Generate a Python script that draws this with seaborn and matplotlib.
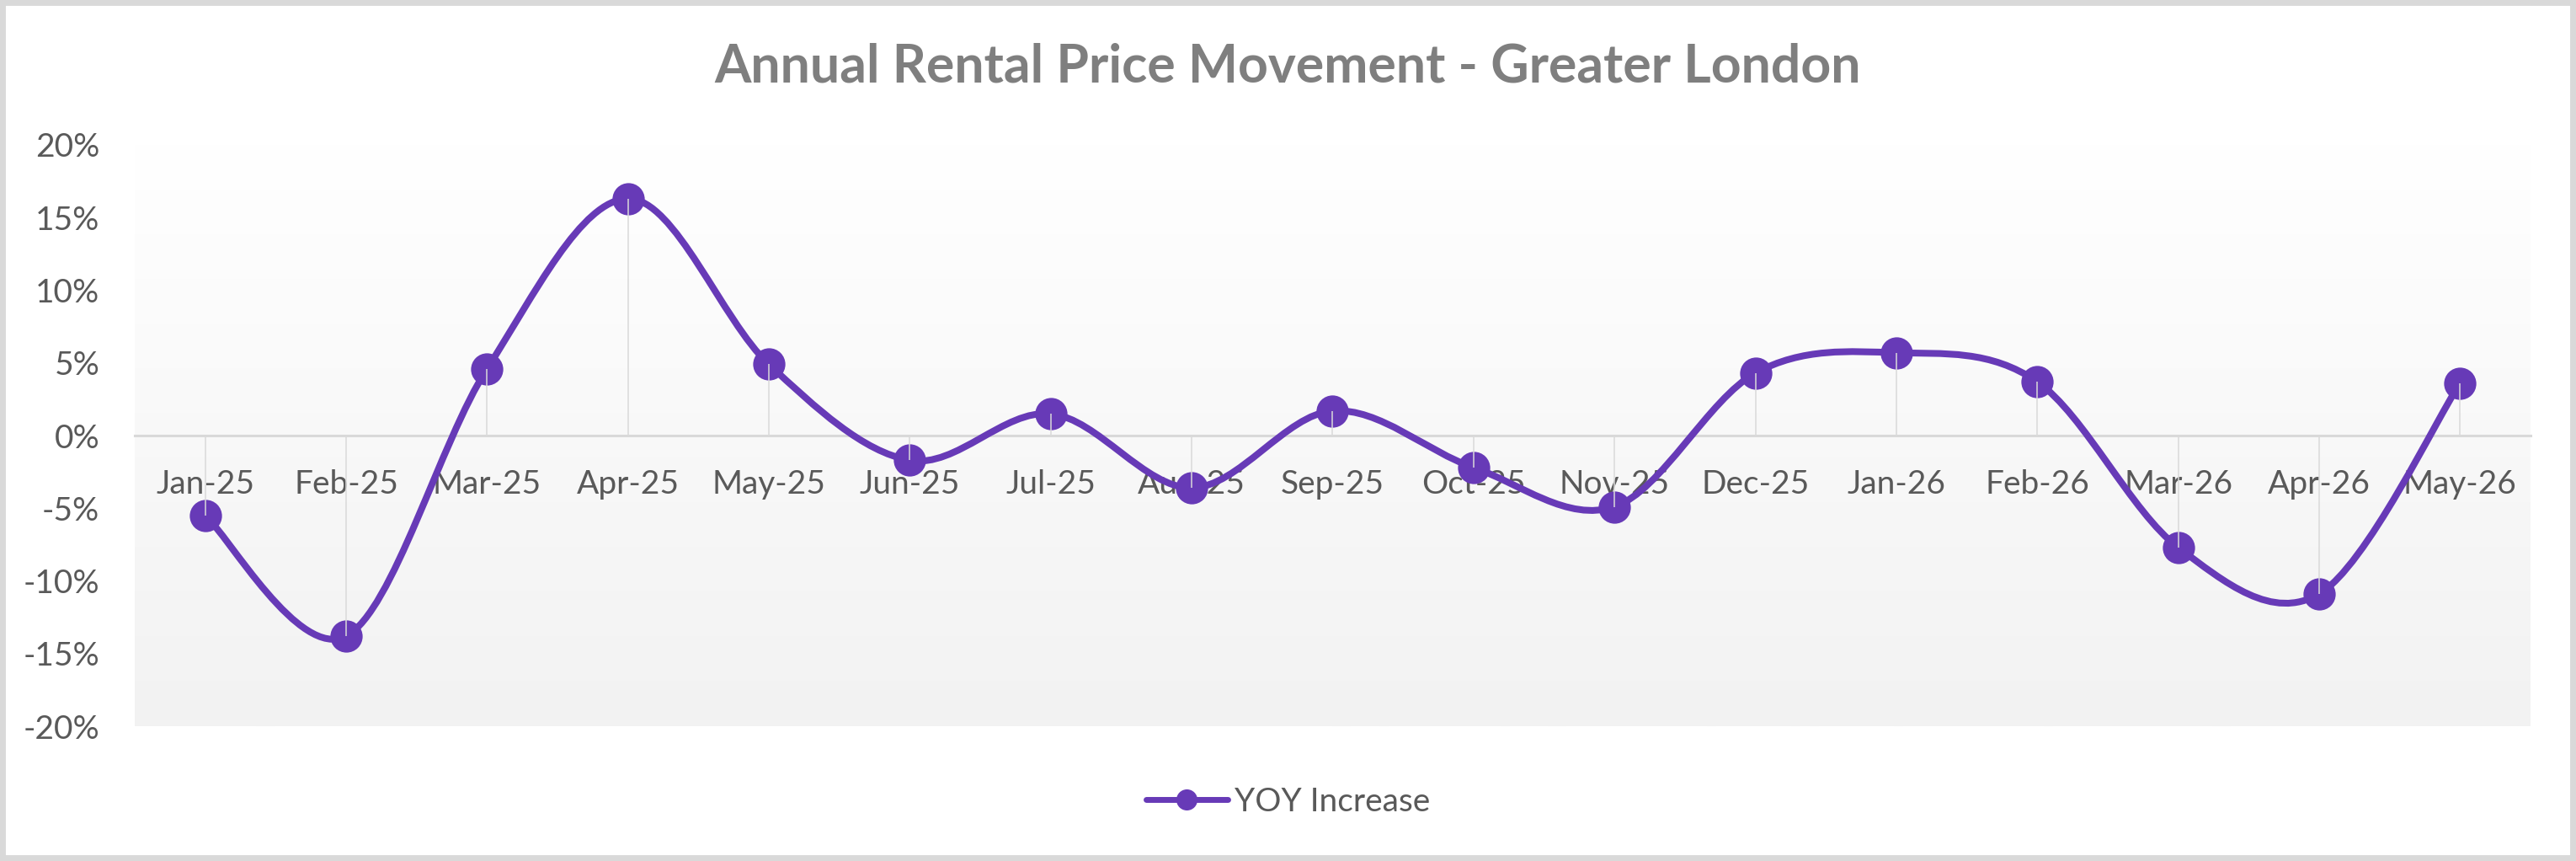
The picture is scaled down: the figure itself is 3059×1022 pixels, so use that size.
import numpy as np
import matplotlib
matplotlib.use("Agg")
import matplotlib.pyplot as plt
import seaborn as sns
from matplotlib.path import Path
from matplotlib.patches import PathPatch, Rectangle
from matplotlib.lines import Line2D
from matplotlib.colors import LinearSegmentedColormap

# ---- data ----
months = ["Jan-25", "Feb-25", "Mar-25", "Apr-25", "May-25", "Jun-25", "Jul-25",
          "Aug-25", "Sep-25", "Oct-25", "Nov-25", "Dec-25", "Jan-26", "Feb-26",
          "Mar-26", "Apr-26", "May-26"]
yoy_increase = [-5.5, -13.8, 4.6, 16.3, 4.9, -1.7, 1.5, -3.6, 1.7, -2.2, -4.9,
                4.3, 5.7, 3.7, -7.7, -10.9, 3.6]
y_ticks = [-20, -15, -10, -5, 0, 5, 10, 15, 20]
y_tick_labels = ["-20%", "-15%", "-10%", "-5%", "0%", "5%", "10%", "15%", "20%"]
title = "Annual Rental Price Movement - Greater London"
series_name = "YOY Increase"

PURPLE = "#673AB7"
GRID = "#D9D9D9"
TXT = "#595959"

sns.set_theme(style="white")
plt.rcParams['font.family'] = ['Lato', 'DejaVu Sans']

W, H = 3059, 1022
fig = plt.figure(figsize=(W / 100, H / 100), dpi=100)
fig.patch.set_facecolor("white")

ax = fig.add_axes([160 / W, 1 - 862 / H, (3005 - 160) / W, (862 - 172) / H])
ax.set_facecolor("none")
n = len(months)
xs = np.arange(n)
ys = np.array(yoy_increase, dtype=float)

ax.set_xlim(-0.5, n - 0.5)
ax.set_ylim(-20, 20)

# gradient plot area
cmap = LinearSegmentedColormap.from_list("g", ["#F2F2F2", "#FFFFFF"])
grad = np.linspace(0, 1, 256).reshape(-1, 1)
ax.imshow(grad, extent=[-0.5, n - 0.5, -20, 20], origin="lower", aspect="auto",
          cmap=cmap, zorder=0)

# smoothed line (Bezier segments through data points)
pts = np.column_stack([xs, ys])
verts = [tuple(pts[0])]
codes = [Path.MOVETO]
for i in range(n - 1):
    p0 = pts[max(i - 1, 0)]
    p1 = pts[i]
    p2 = pts[i + 1]
    p3 = pts[min(i + 2, n - 1)]
    c1 = p1 + (p2 - p0) / 6.0
    c2 = p2 - (p3 - p1) / 6.0
    verts += [tuple(c1), tuple(c2), tuple(p2)]
    codes += [Path.CURVE4] * 3
ax.add_patch(PathPatch(Path(verts, codes), facecolor="none", edgecolor=PURPLE,
                       linewidth=5.8, capstyle="round", joinstyle="round", zorder=3))

# markers
sns.scatterplot(x=xs, y=ys, ax=ax, s=760, color=PURPLE, edgecolor=PURPLE,
                linewidth=0, zorder=4, legend=False)

# drop lines
ax.vlines(xs, 0, ys, color=GRID, linewidth=1.1, zorder=5)

# axes styling
for s in ["top", "right", "left"]:
    ax.spines[s].set_visible(False)
ax.spines["bottom"].set_position(("data", 0))
ax.spines["bottom"].set_color(GRID)
ax.spines["bottom"].set_linewidth(2.2)
ax.spines["bottom"].set_zorder(1)

ax.set_xticks(xs)
ax.set_xticklabels(months)
ax.set_yticks(y_ticks)
ax.set_yticklabels(y_tick_labels)
ax.tick_params(axis="x", length=0, pad=29, labelsize=28, labelcolor=TXT)
ax.tick_params(axis="y", length=0, pad=30, labelsize=28, labelcolor=TXT)
ax.grid(False)

# title
fig.text(0.5, 1 - 80 / H, title, ha="center", va="center", fontsize=45,
         fontweight="bold", color="#7F7F7F")

# legend
handle = Line2D([0], [0], color=PURPLE, linewidth=5, marker="o", markersize=17,
                markerfacecolor=PURPLE, markeredgecolor=PURPLE,
                solid_capstyle="round")
leg = fig.legend([handle], [series_name], loc="center", bbox_to_anchor=(0.5, 1 - 952 / H),
                 frameon=False, fontsize=28, handlelength=2.5, handletextpad=0.2)
for t in leg.get_texts():
    t.set_color(TXT)

# outer border
fig.patches.append(Rectangle((0, 0), 1, 1, transform=fig.transFigure, fill=False,
                             edgecolor=GRID, linewidth=10, zorder=10))

fig.savefig("out.png", dpi=100, facecolor="white")
